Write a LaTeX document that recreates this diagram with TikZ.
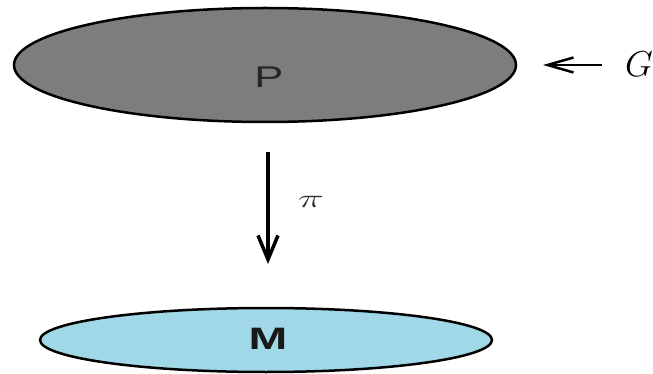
\RequirePackage{fix-cm}
\documentclass[tikz,border=0pt]{standalone}
\usepackage{fontspec}
\usepackage{graphicx}
\newfontfamily\lsans{Liberation Sans}
\usetikzlibrary{shapes.geometric,arrows.meta}
\definecolor{pgray}{RGB}{125,125,125}
\definecolor{mblue}{RGB}{160,216,232}
\tikzset{
  bundle/.style={ellipse, draw=black, line width=2.5pt, fill=pgray, inner sep=0pt},
  base/.style={ellipse, draw=black, line width=2.5pt, fill=mblue, inner sep=0pt},
  maparrow/.style={line width=3.5pt, -{Straight Barb[length=24pt,width=20pt,line width=3.5pt]}},
  actarrow/.style={line width=2.2pt, -{Straight Barb[length=26pt,width=15pt,line width=2.5pt]}}
}
\begin{document}
\begin{tikzpicture}[x=1pt,y=-1pt]
\useasboundingbox (0,0) rectangle (653,374);
\node[bundle, minimum width=502pt, minimum height=114pt] (P) at (265,65) {};
\node[font=\lsans\fontsize{30}{30}\selectfont, text=black!85] (Plabel) at (269,77) {\scalebox{1.45}[1]{P}};
\node[base, minimum width=452pt, minimum height=64pt] (M) at (266,340) {};
\node[font=\lsans\bfseries\fontsize{31}{31}\selectfont, text=black!90] (Mlabel) at (268,339) {\scalebox{1.5}[1]{M}};
\coordinate (Ptop) at (268,152);
\coordinate (Mtop) at (268,264);
\draw[maparrow] (Ptop) -- (Mtop);
\node[font=\fontsize{26}{26}\selectfont, text=black!80] (pi) at (311,202) {\scalebox{1.7}[1]{$\pi$}};
\node[font=\fontsize{36}{36}\selectfont, inner sep=0pt] (G) at (639,64) {$G$};
\coordinate (Gstart) at (602,65);
\coordinate (Gend) at (543,65);
\draw[actarrow] (Gstart) -- (Gend);
\end{tikzpicture}
\end{document}
